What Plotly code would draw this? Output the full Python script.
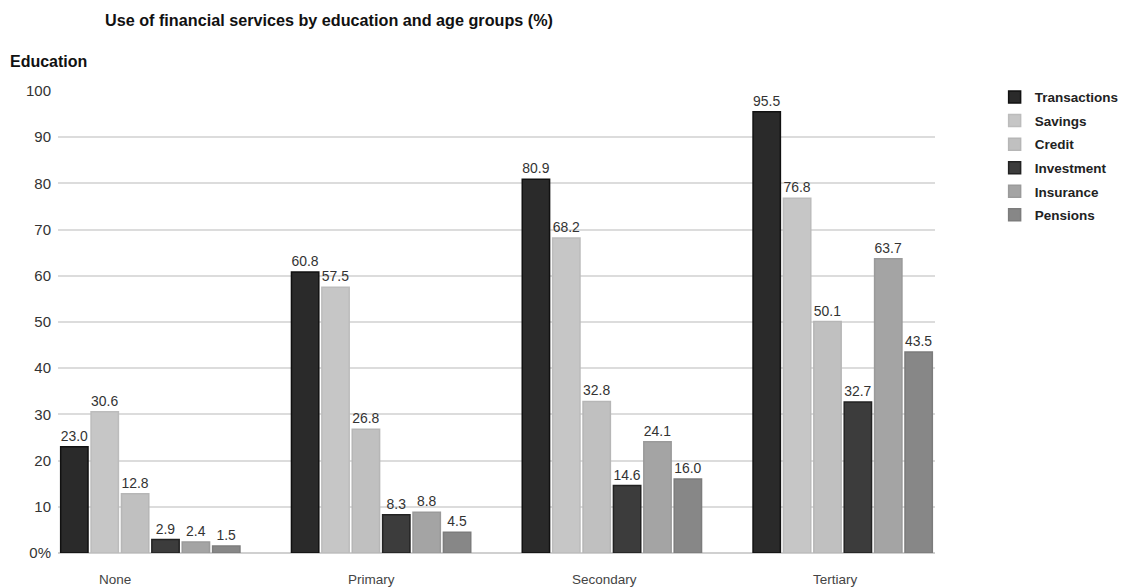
import plotly.graph_objects as go

categories = ["None", "Primary", "Secondary", "Tertiary"]
series_names = ["Transactions", "Savings", "Credit", "Investment", "Insurance", "Pensions"]
transactions = [23.0, 60.8, 80.9, 95.5]
savings = [30.6, 57.5, 68.2, 76.8]
credit = [12.8, 26.8, 32.8, 50.1]
investment = [2.9, 8.3, 14.6, 32.7]
insurance = [2.4, 8.8, 24.1, 63.7]
pensions = [1.5, 4.5, 16.0, 43.5]
y_tickvals = [0, 10, 20, 30, 40, 50, 60, 70, 80, 90, 100]
y_ticktext = ["0%", "10", "20", "30", "40", "50", "60", "70", "80", "90", "100"]

series_values = [transactions, savings, credit, investment, insurance, pensions]
fills = ["#2a2a2a", "#c6c6c6", "#c0c0c0", "#3c3c3c", "#a4a4a4", "#878787"]
lines = ["#111111", "#bcbcbc", "#b6b6b6", "#222222", "#9a9a9a", "#7c7c7c"]
label_shift_px = [-35, -10, -7, -7]

FONT = "Liberation Sans, Arial, sans-serif"

fig = go.Figure()
for i, (name, vals) in enumerate(zip(series_names, series_values)):
    fig.add_trace(go.Bar(
        x=categories, y=vals, name=name,
        marker=dict(color=fills[i], line=dict(color=lines[i], width=1.5)),
        text=vals, texttemplate="%{y:.1f}", textposition="outside",
        textfont=dict(family=FONT, size=14, color="#333333"),
        cliponaxis=False, legendgroup=name,
    ))

for c, dx in zip(categories, label_shift_px):
    fig.add_annotation(x=c, y=0, xref="x", yref="y", text=c, showarrow=False,
                       yanchor="top", yshift=-17, xshift=dx,
                       font=dict(family=FONT, size=13.5, color="#444444"))

fig.update_layout(
    width=1124, height=587,
    margin=dict(l=58, r=189, t=91, b=34, autoexpand=False),
    paper_bgcolor="white", plot_bgcolor="white",
    barmode="group", bargap=0.21, bargroupgap=0.1,
    font=dict(family=FONT, color="#333333"),
    showlegend=True,
    legend=dict(x=1.068, y=1.02, xanchor="left", yanchor="top",
                font=dict(family=FONT, size=13.5, color="#222222", weight="bold"),
                tracegroupgap=3, itemwidth=30, bgcolor="rgba(0,0,0,0)"),
    uniformtext=dict(minsize=10, mode="show"),
)
fig.update_xaxes(range=[-0.4, 3.4], showticklabels=False, showgrid=False,
                 showline=False, zeroline=False, fixedrange=True)
fig.update_yaxes(range=[0, 100], tickvals=y_tickvals, ticktext=y_ticktext,
                 showgrid=True, gridcolor="#dcdcdc", gridwidth=2,
                 zeroline=True, zerolinecolor="#d0d0d0", zerolinewidth=2,
                 tickfont=dict(family=FONT, size=15, color="#333333"),
                 ticklabelstandoff=6, showline=False)

fig.add_annotation(xref="paper", yref="paper", x=(103 - 58) / 877, y=1 + (91 - 20) / 462,
                   text="<b>Use of financial services by education and age groups (%)</b>",
                   showarrow=False, xanchor="left", yanchor="middle",
                   font=dict(family=FONT, size=16.2, color="#111111"))
fig.add_annotation(xref="paper", yref="paper", x=(8 - 58) / 877, y=1 + (91 - 62) / 462,
                   text="<b>Education</b>", showarrow=False, xanchor="left", yanchor="middle",
                   font=dict(family=FONT, size=16, color="#111111"))

fig.write_html("out.html")
